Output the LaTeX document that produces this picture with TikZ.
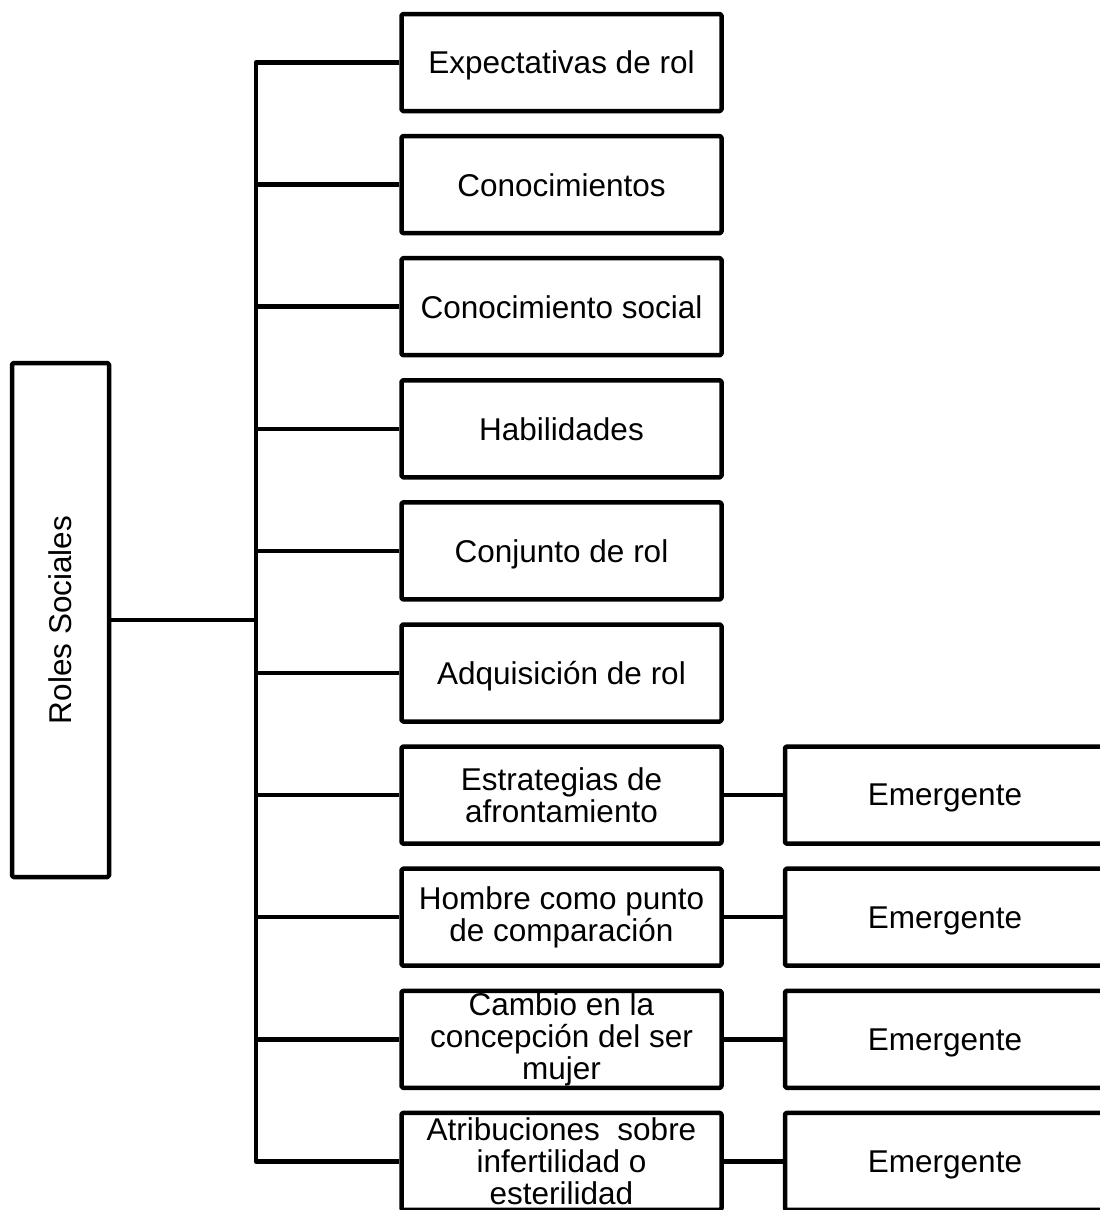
\documentclass[tikz,border=0pt]{standalone}
\usepackage{fontspec}
\setmainfont{Liberation Sans}
\begin{document}
\begin{tikzpicture}[x=1pt,y=-1pt,
  line width=4.5pt, line join=round,
  box/.style={draw, rectangle, rounded corners=1.5pt, inner sep=0pt,
    minimum width=320pt, minimum height=97pt, align=center,
    font=\fontsize{31.5}{32}\selectfont},
  oneline/.style={box, text depth=0pt},
  rootbox/.style={draw, rectangle, rounded corners=1.5pt, inner sep=0pt,
    minimum width=97pt, minimum height=514pt},
  link/.style={draw, line width=4.5pt}]
\useasboundingbox (0,0) rectangle (1100,1210);
\clip (0,0) rectangle (1100,1210);

% root
\node[rootbox] (root) at (60.5,620) {};
\node[rotate=90, font=\fontsize{31.5}{32}\selectfont] (rootlabel) at (root.center) {Roles Sociales};

% trunk position
\coordinate (trunkx) at (256,0);

% first-level boxes
\node[oneline] (b1)  at (561.5,62.5)  {Expectativas de rol};
\node[oneline] (b2)  at (561.5,184.6) {Conocimientos};
\node[oneline] (b3)  at (561.5,306.7) {Conocimiento social};
\node[oneline] (b4)  at (561.5,428.8) {Habilidades};
\node[oneline] (b5)  at (561.5,550.9) {Conjunto de rol};
\node[oneline] (b6)  at (561.5,673.0) {Adquisición de rol};
\node[box] (b7)  at (561.5,795.1) {Estrategias de\\afrontamiento};
\node[box] (b8)  at (561.5,917.2) {Hombre como punto\\de comparación};
\node[box] (b9)  at (561.5,1039.3) {Cambio en la\\concepción del ser\\mujer};
\node[box] (b10) at (561.5,1161.4) {Atribuciones~ sobre\\infertilidad o\\esterilidad};

% second-level boxes
\node[oneline] (e7)  at (945,795.1)  {Emergente};
\node[oneline] (e8)  at (945,917.2)  {Emergente};
\node[oneline] (e9)  at (945,1039.3) {Emergente};
\node[oneline] (e10) at (945,1161.4) {Emergente};

% connectors
\draw[link] (root.east) -- (root.east -| trunkx);
\draw[link] (b1.west) -- (b1.west -| trunkx) -- (b10.west -| trunkx) -- (b10.west);
\foreach \i in {2,...,9} {
  \draw[link] (b\i.west -| trunkx) -- (b\i.west);
}
\foreach \i in {7,...,10} {
  \draw[link] (b\i.east) -- (e\i.west);
}
\end{tikzpicture}
\end{document}
